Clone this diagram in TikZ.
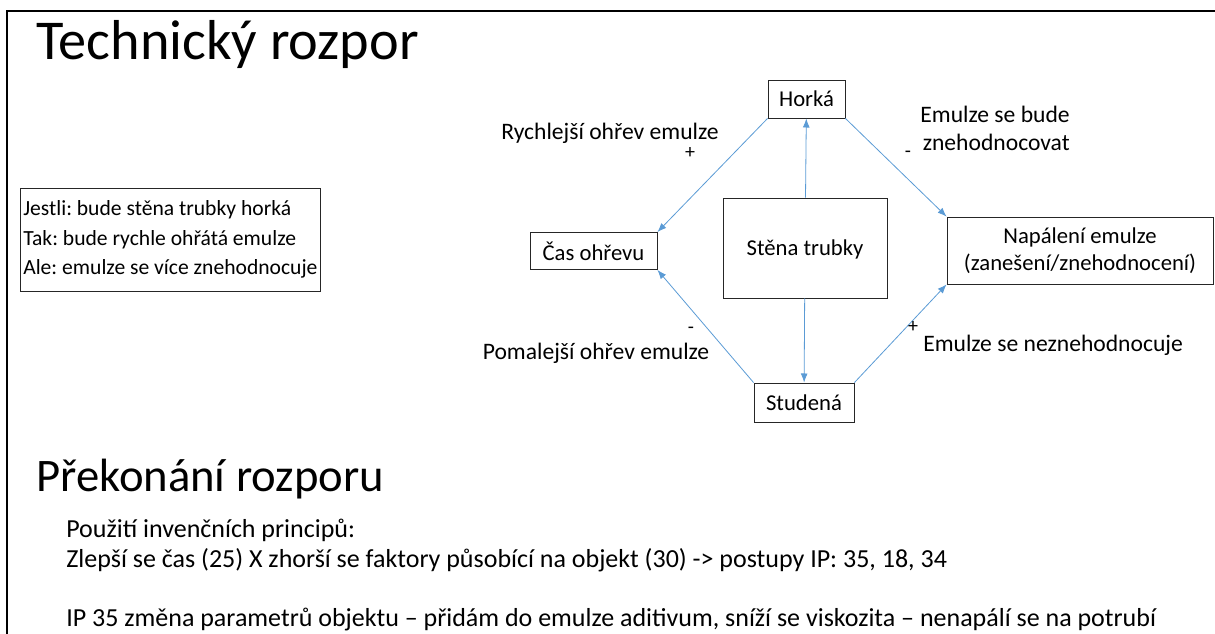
\documentclass[tikz,border=0pt]{standalone}
\usepackage{fontspec}
\setmainfont{Carlito}
\usetikzlibrary{arrows.meta, positioning}
\definecolor{linkblue}{HTML}{5B9BD5}
\definecolor{boxgray}{HTML}{262626}

\begin{document}
\frenchspacing
\begin{tikzpicture}[
    x=0.75pt, y=-0.75pt,
    box/.style={rectangle, draw=boxgray, line width=0.6pt, inner sep=0pt, align=center, font=\fontsize{17}{20}\selectfont},
    arrow/.style={-{Latex[length=2.4mm, width=1.8mm]}, linkblue, line width=0.6pt},
    lbl/.style={inner sep=0pt, font=\fontsize{17.7}{21}\selectfont},
    sign/.style={inner sep=0pt, font=\fontsize{15}{17}\selectfont},
    heading/.style={inner sep=0pt, anchor=base west},
    bodytext/.style={inner sep=0pt, anchor=base west, font=\fontsize{19.5}{23}\selectfont},
]
    \useasboundingbox (0,0) rectangle (1215,634);
    \clip (0,0) rectangle (1215,634);

    % Slide frame
    \draw[line width=1.5pt] (7,634) -- (7,11) -- (1215,11);

    % Headings
    \node[heading, font=\fontsize{42.2}{50}\selectfont] (title) at (36,60) {Technický rozpor};
    \node[heading, font=\fontsize{35}{42}\selectfont] (subtitle) at (36,492) {Překonání rozporu};

    % Condition box
    \node[box, anchor=west, minimum width=225pt, minimum height=77.25pt, align=left, font=\fontsize{16.2}{22}\selectfont] (cond) at (20,239.5)
        {Jestli: bude stěna trubky horká\\Tak: bude rychle ohřátá emulze\\Ale: emulze se více znehodnocuje};

    % Diagram boxes
    \node[box, minimum width=57.75pt, minimum height=28.5pt] (hot) at (806.5,99) {Horká};
    \node[box, minimum width=95.25pt, minimum height=27.75pt] (time) at (593.5,251) {Čas ohřevu};
    \node[box, minimum width=123pt, minimum height=75pt, text depth=-3pt] (wall) at (805,248) {Stěna trubky};
    \node[box, minimum width=75pt, minimum height=29.25pt] (cold) at (804,402.5) {Studená};
    \node[box, minimum width=199.5pt, minimum height=50.25pt] (burn) at (1080,250.5) {Napálení emulze\\(zanešení/znehodnocení)};

    % Connectors
    \draw[arrow] (wall) -- (hot);
    \draw[arrow] (wall) -- (cold);
    \draw[arrow] (hot.south west) -- (time.north east);
    \draw[arrow] (hot.south east) -- (burn.north west);
    \draw[arrow] (cold.north west) -- (time.south east);
    \draw[arrow] (cold.north east) -- (burn.south west);

    % Connector labels
    \node[lbl] (fastlbl) at (610,133) {Rychlejší ohřev emulze};
    \node[sign] (fastsign) at (690,153) {+};
    \node[lbl, align=right, anchor=east] (badlbl) at (1070,128) {Emulze se bude\\znehodnocovat};
    \node[sign] (badsign) at (908,154) {-};
    \node[lbl] (slowlbl) at (596,353) {Pomalejší ohřev emulze};
    \node[sign] (slowsign) at (691,330) {-};
    \node[sign] (goodsign) at (913,327) {+};
    \node[lbl, anchor=west] (goodlbl) at (923,345) {Emulze se neznehodnocuje};

    % Solution text
    \node[bodytext] (principles) at (66,538) {Použití invenčních principů:};
    \node[bodytext] (matrix) at (66,568) {Zlepší se čas (25) X zhorší se faktory působící na objekt (30) -> postupy IP: 35, 18, 34};
    \node[bodytext] (ip35) at (66,627) {IP 35 změna parametrů objektu – přidám do emulze aditivum, sníží se viskozita – nenapálí se na potrubí};
\end{tikzpicture}
\end{document}
